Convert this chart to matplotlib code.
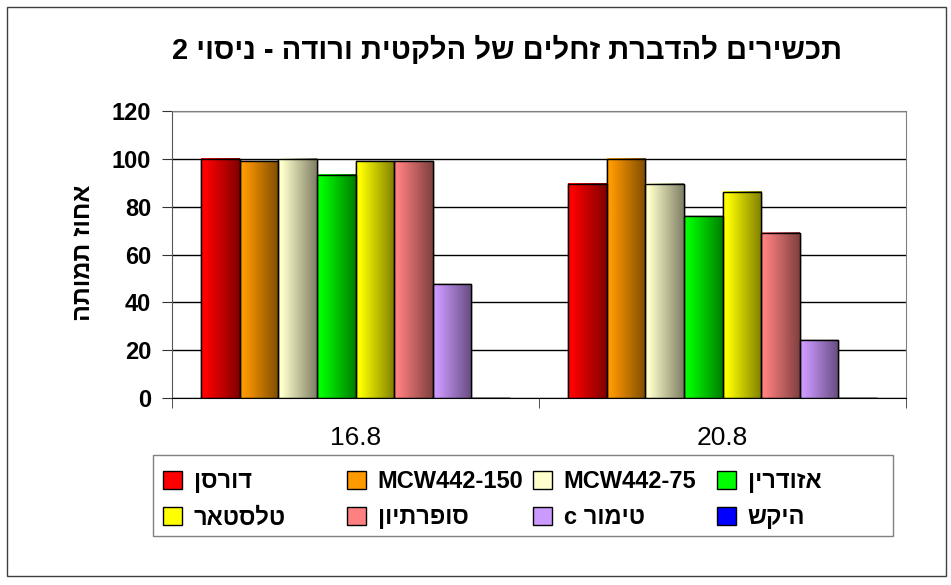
import numpy as np
import matplotlib
matplotlib.use('Agg')
import matplotlib.pyplot as plt
from matplotlib.patches import Rectangle

plt.rcParams['font.family'] = ['Liberation Sans', 'DejaVu Sans']

title = 'תכשירים להדברת זחלים של הלקטית ורודה - ניסוי 2'
ylabel = 'אחוז תמותה'
dates = ['16.8', '20.8']
series = ['דורסן', 'MCW442-150', 'MCW442-75', 'אזודרין',
          'טלסטאר', 'סופרתיון', 'טימור c', 'היקש']
dorsan = [100, 89.6]
mcw150 = [99, 100]
mcw75 = [100, 89.6]
azodrin = [93.3, 75.9]
telstar = [99, 86.2]
sopertion = [99, 69]
timor = [47.6, 24.1]
hikesh = [0, 0]
values = [dorsan, mcw150, mcw75, azodrin, telstar, sopertion, timor, hikesh]
colors = ['#ff0000', '#ff9900', '#ffffcc', '#00ff00',
          '#ffff00', '#ff8080', '#cc99ff', '#0000ff']


def vis(s):
    # matplotlib has no bidi, so flip hebrew strings to visual order
    if any('\u0590' <= ch <= '\u05ff' for ch in s):
        return s[::-1]
    return s


fig = plt.figure(figsize=(9.51, 5.85), dpi=100)
ax = fig.add_axes([172/951, 1-398/585, (906-172)/951, (398-111)/585])

n = len(series)
w = 0.84/n
x = np.arange(len(dates))
t = np.linspace(0, 1, 64)
shade = np.clip((t-0.1)/0.9, 0, 1)[:, None]
handles = []
for i, (name, vals, c) in enumerate(zip(series, values, colors)):
    pos = x - 0.42 + w*(i+0.5)
    bars = ax.bar(pos, vals, w, color=c, edgecolor='black', linewidth=1,
                  zorder=2, label=vis(name))
    handles.append(bars)
    rgb = np.array(matplotlib.colors.to_rgb(c))
    grad = rgb*(1-0.5*shade)
    for b in bars:
        if b.get_height() <= 0:
            continue
        ax.imshow(grad[None, :, :], aspect='auto', zorder=2.5,
                  interpolation='bilinear',
                  extent=[b.get_x(), b.get_x()+b.get_width(), 0, b.get_height()])
    ax.bar(pos, vals, w, fill=False, edgecolor='black', linewidth=1, zorder=3)

ax.set_xlim(-0.5, 1.5)
ax.set_ylim(0, 120)
ax.set_yticks(np.arange(0, 121, 20))
ax.tick_params(axis='y', labelsize=17, length=7, pad=8, color='#333333')
for lab in ax.get_yticklabels():
    lab.set_fontweight('bold')
ax.set_xticks(x)
ax.set_xticklabels(dates, fontsize=19)
ax.set_xticks([-0.5, 0.5, 1.5], minor=True)
ax.tick_params(axis='x', which='major', length=0, pad=20)
ax.tick_params(axis='x', which='minor', length=7, color='#333333')
ax.yaxis.grid(True, color='black', linewidth=1)
ax.set_axisbelow(True)
for side in ['top', 'right']:
    ax.spines[side].set_color('#808080')
ax.spines['left'].set_color('#555555')
ax.spines['bottom'].set_color('black')

# legend: excel lays out 4 equal columns, 2 rows, filled row by row
fig.add_artist(Rectangle((153/951, 1-536/585), (893-153)/951, 81/585,
                         transform=fig.transFigure, facecolor='white',
                         edgecolor='#808080', linewidth=1))
col_x = [153.6, 337.6, 523.6, 707.6]
for col in range(4):
    idx = [col, col+4]
    fig.legend([handles[k] for k in idx], [vis(series[k]) for k in idx],
               loc='upper left', borderaxespad=0, frameon=False,
               bbox_to_anchor=(col_x[col]/951, 1-461/585),
               prop={'weight': 'bold', 'size': 17},
               handlelength=0.8, handleheight=0.8, handletextpad=0.5,
               labelspacing=0.55, borderpad=0.4)

fig.text(507/951, 1-50/585, vis(title), ha='center', va='center',
         fontsize=21, fontweight='bold')
fig.text(83/951, 1-253/585, vis(ylabel), rotation=90, ha='center',
         va='center', fontsize=18, fontweight='bold')

fig.add_artist(Rectangle((7/951, 1-576/585), (946-7)/951, (576-7)/585,
                         transform=fig.transFigure, fill=False,
                         edgecolor='#404040', linewidth=1))

fig.savefig('out.png', dpi=100)
